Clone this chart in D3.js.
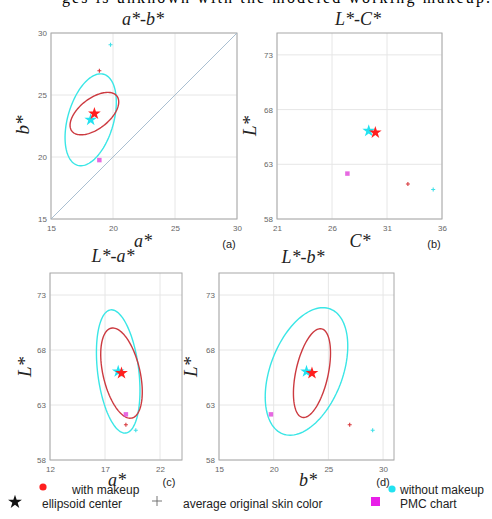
<!DOCTYPE html>
<html>
<head>
<meta charset="utf-8">
<script src="https://cdn.jsdelivr.net/npm/d3@7"></script>
<style>
  body { margin: 0; background: #fff; }
  svg { display: block; }
</style>
</head>
<body>
<script>
// groups: [with makeup, without makeup]
const groups = ["with makeup", "without makeup"];
const markColor = ["#ff1f1f", "#22e2f0"];
const ellipseColor = ["#cc3a40", "#3ae6e6"];
const pmcColor = "#e24fdc";

// ellipsoid centres
const centerA = [18.5, 18.2];
const centerB = [23.5, 23.0];
const centerL = [65.9, 66.05];
const centerC = [29.94, 29.34];

// average original skin colour
const origA = [18.9, 19.8];
const origB = [26.95, 29.05];
const origL = [61.2, 60.7];
const origC = [32.9, 35.2];

// PMC chart
const pmcA = 18.9, pmcB = 19.75, pmcL = 62.15, pmcC = 27.4;

// ellipse sections: [semi-major, semi-minor, angle (deg)] for each group
const ellipseAB = [[2.3, 1.22, 38], [3.82, 1.85, 74]];
const ellipseLA = [[4.19, 1.68, 103], [5.64, 1.87, 97]];
const ellipseLB = [[4.12, 1.48, 77.6], [6.08, 3.3, 69]];

const ticksAB = [15, 20, 25, 30];
const ticksC = [21, 26, 31, 36];
const ticksL = [58, 63, 68, 73];
const ticksA = [12, 17, 22];
const ticksB = [15, 20, 25, 30];
const diagonal = [15, 30];

const W = 492, H = 519;
const svg = d3.select("body").append("svg")
  .attr("width", W).attr("height", H)
  .attr("viewBox", [0, 0, W, H]);

const serif = "'Liberation Serif', 'Times New Roman', serif";
const sans = "'Liberation Sans', Arial, sans-serif";

// clipped caption line from the page above
svg.append("text")
  .attr("x", 62).attr("y", 3)
  .attr("font-family", serif).attr("font-size", 16)
  .attr("textLength", 428)
  .text("ges is unknown with the modeled working makeup.");

const panels = [
  {
    xd: [15, 30], yd: [15, 30], xr: [51, 237], yr: [219, 33],
    xt: ticksAB, yt: ticksAB,
    cx: centerA, cy: centerB, ox: origA, oy: origB, px: pmcA, py: pmcB,
    ell: ellipseAB, diag: true
  },
  {
    xd: [21, 36], yd: [58, 75], xr: [277, 442], yr: [219, 33],
    xt: ticksC, yt: ticksL,
    cx: centerC, cy: centerL, ox: origC, oy: origL, px: pmcC, py: pmcL,
    ell: null
  },
  {
    xd: [12, 24], yd: [58, 75], xr: [50, 182], yr: [460, 273],
    xt: ticksA, yt: ticksL,
    cx: centerA, cy: centerL, ox: origA, oy: origL, px: pmcA, py: pmcL,
    ell: ellipseLA
  },
  {
    xd: [15, 31], yd: [58, 75], xr: [219, 394], yr: [460, 273],
    xt: ticksB, yt: ticksL,
    cx: centerB, cy: centerL, ox: origB, oy: origL, px: pmcB, py: pmcL,
    ell: ellipseLB
  }
];

function ellipsePoints(cx, cy, [a, b, deg]) {
  const t = deg * Math.PI / 180;
  return d3.range(120).map(i => {
    const s = i / 120 * 2 * Math.PI;
    return [
      cx + a * Math.cos(t) * Math.cos(s) - b * Math.sin(t) * Math.sin(s),
      cy + a * Math.sin(t) * Math.cos(s) + b * Math.cos(t) * Math.sin(s)
    ];
  });
}

const star = d3.symbol(d3.symbolStar);
const plusPath = "M-2,0H2M0,-2V2";

function drawPanel(p) {
  const x = d3.scaleLinear().domain(p.xd).range(p.xr);
  const y = d3.scaleLinear().domain(p.yd).range(p.yr);
  const g = svg.append("g");

  // grid
  g.append("g").selectAll("line").data(p.xt).join("line")
    .attr("x1", d => x(d)).attr("x2", d => x(d))
    .attr("y1", p.yr[0]).attr("y2", p.yr[1])
    .attr("stroke", "#e6e6e6");
  g.append("g").selectAll("line").data(p.yt).join("line")
    .attr("y1", d => y(d)).attr("y2", d => y(d))
    .attr("x1", p.xr[0]).attr("x2", p.xr[1])
    .attr("stroke", "#e6e6e6");

  // axes (labels only)
  const xa = g.append("g")
    .attr("transform", `translate(0,${p.yr[0]})`)
    .call(d3.axisBottom(x).tickValues(p.xt).tickSize(0).tickPadding(6));
  const ya = g.append("g")
    .attr("transform", `translate(${p.xr[0]},0)`)
    .call(d3.axisLeft(y).tickValues(p.yt).tickSize(0).tickPadding(4));
  [xa, ya].forEach(a => {
    a.select(".domain").remove();
    a.selectAll("text").attr("font-family", sans).attr("font-size", 8).attr("fill", "#666");
  });

  // box
  g.append("rect")
    .attr("x", p.xr[0]).attr("y", p.yr[1])
    .attr("width", p.xr[1] - p.xr[0]).attr("height", p.yr[0] - p.yr[1])
    .attr("fill", "none").attr("stroke", "#a8a8a8");

  if (p.diag) {
    g.append("line")
      .attr("x1", x(diagonal[0])).attr("y1", y(diagonal[0]))
      .attr("x2", x(diagonal[1])).attr("y2", y(diagonal[1]))
      .style("stroke", "#9fb8cc").style("stroke-width", 0.9);
  }

  if (p.ell) {
    const line = d3.line().x(d => x(d[0])).y(d => y(d[1])).curve(d3.curveLinearClosed);
    [1, 0].forEach(i => {
      g.append("path")
        .attr("d", line(ellipsePoints(p.cx[i], p.cy[i], p.ell[i])))
        .attr("fill", "none").attr("stroke", ellipseColor[i]).attr("stroke-width", 1.4);
    });
  }

  // PMC chart
  g.append("path")
    .attr("d", d3.symbol(d3.symbolSquare).size(20)())
    .attr("transform", `translate(${x(p.px)},${y(p.py)})`)
    .attr("fill", pmcColor).attr("opacity", 0.85);

  // average original skin colour
  g.append("g").selectAll("path").data([0, 1]).join("path")
    .attr("d", plusPath)
    .attr("transform", i => `translate(${x(p.ox[i])},${y(p.oy[i])})`)
    .attr("stroke", i => i === 0 ? "#d8383c" : "#3fe0e8")
    .attr("stroke-width", 1.1).attr("fill", "none");

  // ellipsoid centres
  g.append("g").selectAll("path").data([1, 0]).join("path")
    .attr("d", star.size(50)())
    .attr("transform", i => `translate(${x(p.cx[i])},${y(p.cy[i])})`)
    .attr("fill", i => markColor[i]);
}

panels.forEach(drawPanel);

// titles and axis labels
const labels = [
  { t: "a*-b*", x: 143, y: 25 },
  { t: "L*-C*", x: 358, y: 25 },
  { t: "a*", x: 143, y: 247 },
  { t: "C*", x: 360, y: 247 },
  { t: "L*-a*", x: 113, y: 262 },
  { t: "L*-b*", x: 303, y: 263 },
  { t: "a*", x: 117, y: 486 },
  { t: "b*", x: 308, y: 486 }
];
svg.append("g").selectAll("text").data(labels).join("text")
  .attr("x", d => d.x).attr("y", d => d.y)
  .attr("text-anchor", "middle")
  .attr("font-family", serif).attr("font-style", "italic")
  .attr("font-size", 18).attr("fill", "#222")
  .text(d => d.t);

const yLabels = [
  { t: "b*", x: 29, y: 125 },
  { t: "L*", x: 256, y: 126 },
  { t: "L*", x: 31, y: 367 },
  { t: "L*", x: 197, y: 367 }
];
svg.append("g").selectAll("text").data(yLabels).join("text")
  .attr("transform", d => `translate(${d.x},${d.y}) rotate(-90)`)
  .attr("text-anchor", "middle")
  .attr("font-family", serif).attr("font-style", "italic")
  .attr("font-size", 19).attr("fill", "#222")
  .text(d => d.t);

const tags = [
  { t: "(a)", x: 229, y: 248 },
  { t: "(b)", x: 434, y: 248 },
  { t: "(c)", x: 169, y: 486 },
  { t: "(d)", x: 383, y: 486 }
];
svg.append("g").selectAll("text").data(tags).join("text")
  .attr("x", d => d.x).attr("y", d => d.y)
  .attr("text-anchor", "middle")
  .attr("font-family", sans).attr("font-size", 11).attr("fill", "#222")
  .text(d => d.t);

// legend
const leg = svg.append("g").attr("font-family", sans).attr("font-size", 12).attr("fill", "#222");
leg.append("circle").attr("cx", 43).attr("cy", 487).attr("r", 3.6).attr("fill", "#ff1f1f");
leg.append("text").attr("x", 72).attr("y", 494).text(groups[0]);
leg.append("circle").attr("cx", 392).attr("cy", 489).attr("r", 3.6).attr("fill", "#22e2f0");
leg.append("text").attr("x", 400).attr("y", 494).text(groups[1]);
leg.append("path").attr("d", d3.symbol(d3.symbolStar).size(60)())
  .attr("transform", "translate(15,502)").attr("fill", "#111");
leg.append("text").attr("x", 42).attr("y", 508).text("ellipsoid center");
leg.append("path").attr("d", "M-5,0H5M0,-5V5")
  .attr("transform", "translate(157,501)").attr("stroke", "#666").attr("stroke-width", 0.9);
leg.append("text").attr("x", 183).attr("y", 508).text("average original skin color");
leg.append("rect").attr("x", 371).attr("y", 497).attr("width", 9).attr("height", 9).attr("fill", "#e81fe8");
leg.append("text").attr("x", 400).attr("y", 508).text("PMC chart");
</script>
</body>
</html>
